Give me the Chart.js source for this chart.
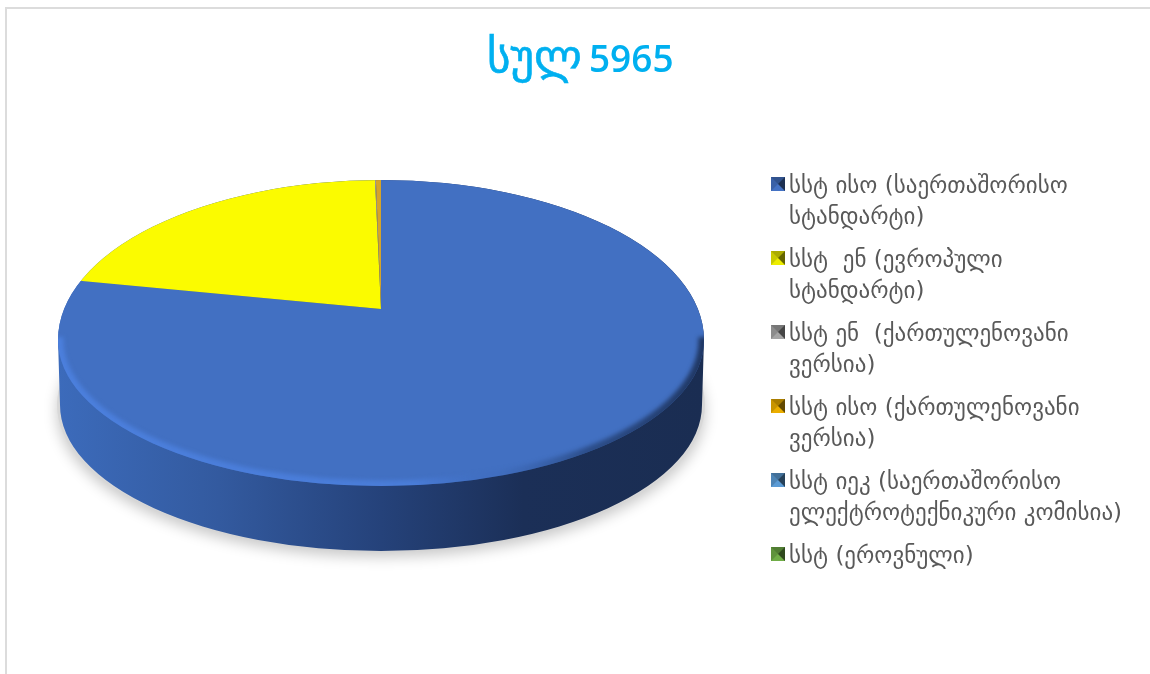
<!DOCTYPE html>
<html>
<head>
<meta charset="utf-8">
<script src="https://cdn.jsdelivr.net/npm/chart.js@4"></script>
<style>
    html, body { margin: 0; padding: 0; background: #fff; overflow: hidden; }
    #frame { position: absolute; left: 5px; top: 7px; width: 1145px; height: 667px;
             border-left: 2px solid #dcdcdc; border-top: 2px solid #dcdcdc; box-sizing: border-box; }
    canvas { position: absolute; left: 0; top: 0; }
    #title { position: absolute; left: 487px; top: 30px; white-space: nowrap; color: #00B0F0; line-height: 54px; }
    #title .word { font: 45px "DejaVu Sans", sans-serif; -webkit-text-stroke: 0.6px #00B0F0; }
    #title .num { font: 600 37px "Open Sans", sans-serif; margin-left: 7px; }
    #legend { position: absolute; left: 771px; top: 0; font: 23px "DejaVu Sans", sans-serif; color: #595959; }
    .item { position: absolute; left: 0; white-space: pre; line-height: 31px; padding-left: 18px; }
    .icon { position: absolute; left: 0; top: 7px; width: 0; height: 0; border-style: solid; border-width: 7px; }
</style>
</head>
<body>
<div id="frame"></div>
<div style="position:absolute;left:0;top:0;width:1150px;height:674px"><canvas id="pie"></canvas></div>
<div id="title"></div>
<div id="legend"></div>
<script>
const titleWord = 'სულ';
const titleTotal = '5965';
const categories = [
    ['სსტ ისო (საერთაშორისო', 'სტანდარტი)'],
    ['სსტ  ენ (ევროპული', 'სტანდარტი)'],
    ['სსტ ენ  (ქართულენოვანი', 'ვერსია)'],
    ['სსტ ისო (ქართულენოვანი', 'ვერსია)'],
    ['სსტ იეკ (საერთაშორისო', 'ელექტროტექნიკური კომისია)'],
    ['სსტ (ეროვნული)']
];
const shares = [78.1, 21.55, 0.05, 0.3, 0, 0];
const sliceColors = ['#4270C2', '#FBFB00', '#A5A5A5', '#D6A428', '#5B9BD5', '#70AD47'];
const iconColors = ['#4472C4', '#EDED00', '#A5A5A5', '#EBAE00', '#5B9BD5', '#70AD47'];

// face of the disc, measured from the pie centre (perspective puts the centre above the widest line)
const face = { dy: 31, rx: 323, ryTop: 160, ryBottom: 146, depth: 65 };
const squash = 0.474;

function shade(hex, f) {
    const n = parseInt(hex.slice(1), 16);
    return 'rgb(' + [(n >> 16) & 255, (n >> 8) & 255, n & 255].map(v => Math.round(v * f)).join(',') + ')';
}

function facePath(ctx, x, y) {
    ctx.beginPath();
    ctx.ellipse(x, y, face.rx, face.ryTop, 0, Math.PI, Math.PI * 2);
    ctx.ellipse(x, y, face.rx, face.ryBottom, 0, 0, Math.PI);
    ctx.closePath();
}

// title + legend as html, the library legend can't wrap lines
const titleEl = document.getElementById('title');
titleEl.innerHTML = '<span class="word">' + titleWord + '</span><span class="num">' + titleTotal + '</span>';
const legendEl = document.getElementById('legend');
categories.forEach((lines, i) => {
    const item = document.createElement('div');
    item.className = 'item';
    item.style.top = (170 + i * 74) + 'px';
    item.textContent = lines.join('\n');
    const icon = document.createElement('span');
    icon.className = 'icon';
    const c = iconColors[i];
    icon.style.borderColor = shade(c, 0.72) + ' ' + shade(c, 0.42) + ' ' + shade(c, 1) + ' ' + shade(c, 0.85);
    item.appendChild(icon);
    legendEl.appendChild(item);
});

const disc3d = {
    id: 'disc3d',
    beforeDatasetsDraw(chart) {
        const ctx = chart.ctx;
        const arc = chart.getDatasetMeta(0).data[0];
        const cy = arc.y + face.dy;

        // soft shadow under the disc
        ctx.save();
        ctx.shadowColor = 'rgba(0,0,0,0.22)';
        ctx.shadowBlur = 14;
        ctx.shadowOffsetY = 6;
        ctx.fillStyle = '#d8d8d8';
        ctx.beginPath();
        ctx.ellipse(arc.x, cy + face.depth, face.rx + 1, face.ryBottom, 0, 0, Math.PI * 2);
        ctx.fill();
        ctx.restore();

        // side wall
        const wall = ctx.createLinearGradient(arc.x - face.rx, 0, arc.x + face.rx, 0);
        wall.addColorStop(0, '#3C6BBB');
        wall.addColorStop(0.25, '#335A9F');
        wall.addColorStop(0.5, '#25427A');
        wall.addColorStop(0.72, '#1B2F57');
        wall.addColorStop(1, '#1A2D52');
        ctx.save();
        ctx.fillStyle = wall;
        ctx.beginPath();
        ctx.ellipse(arc.x, cy, face.rx, face.ryTop, 0, Math.PI, Math.PI * 2);
        ctx.ellipse(arc.x, cy + face.depth, face.rx - 2, face.ryBottom, 0, 0, Math.PI);
        ctx.closePath();
        ctx.fill();
        ctx.restore();

        // slices are drawn squashed and cut to the face outline
        ctx.save();
        facePath(ctx, arc.x, cy);
        ctx.clip();
        ctx.translate(arc.x, arc.y);
        ctx.scale(1, squash);
        ctx.translate(-arc.x, -arc.y);
    },
    afterDatasetsDraw(chart) {
        const ctx = chart.ctx;
        const arc = chart.getDatasetMeta(0).data[0];
        const cy = arc.y + face.dy;
        ctx.restore();

        // bevel on the lower rim
        ctx.save();
        facePath(ctx, arc.x, cy);
        ctx.clip();
        const rim = ctx.createLinearGradient(arc.x - face.rx, 0, arc.x + face.rx, 0);
        rim.addColorStop(0, 'rgba(76,128,222,0.95)');
        rim.addColorStop(0.55, 'rgba(76,128,222,0.8)');
        rim.addColorStop(0.68, 'rgba(60,105,185,0.3)');
        rim.addColorStop(0.82, 'rgba(30,55,100,0.6)');
        rim.addColorStop(1, 'rgba(26,45,82,0.85)');
        ctx.strokeStyle = rim;
        ctx.filter = 'blur(2px)';
        ctx.lineWidth = 11;
        ctx.beginPath();
        ctx.ellipse(arc.x, cy, face.rx, face.ryBottom, 0, -0.02, Math.PI + 0.02);
        ctx.stroke();
        ctx.restore();
    }
};

new Chart(document.getElementById('pie').getContext('2d'), {
    type: 'pie',
    data: {
        labels: categories.map(l => l.join(' ')),
        datasets: [{
            data: shares,
            backgroundColor: sliceColors,
            borderWidth: 0,
            clip: false
        }]
    },
    options: {
        responsive: true,
        maintainAspectRatio: false,
        animation: false,
        radius: 385,
        layout: { padding: { left: 0, right: 388, top: 0, bottom: 56 } },
        plugins: {
            legend: { display: false },
            tooltip: { enabled: false }
        }
    },
    plugins: [disc3d]
});
</script>
</body>
</html>
